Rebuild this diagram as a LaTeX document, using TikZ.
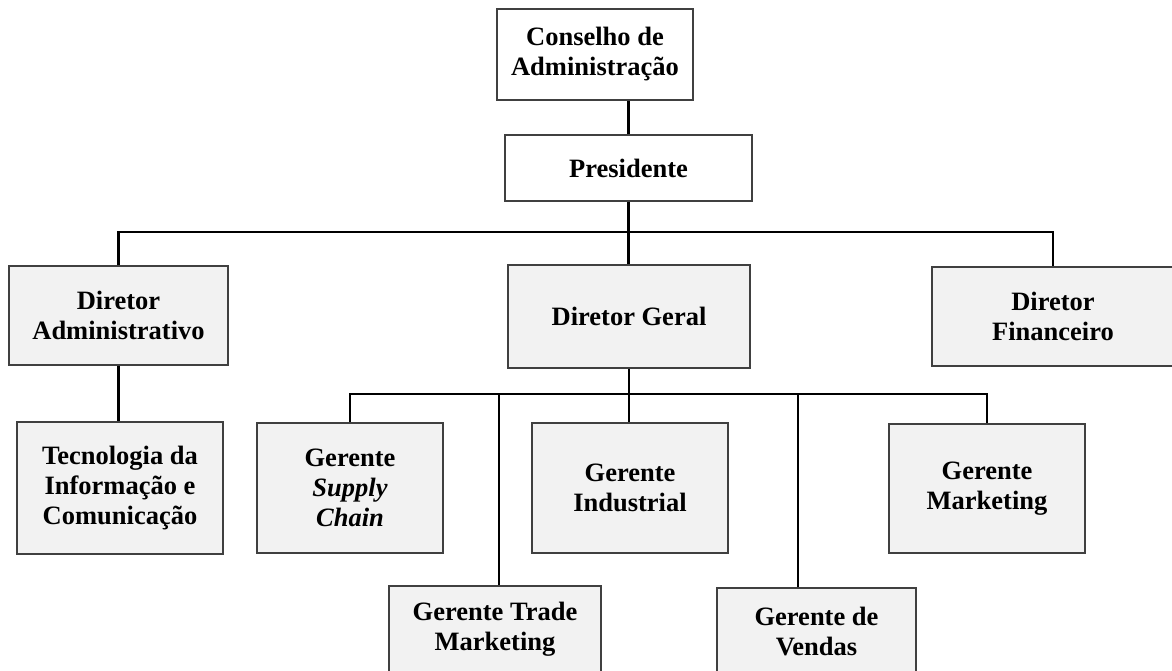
\documentclass[tikz,border=0pt]{standalone}
\usepackage{fontspec}
\setmainfont{Liberation Serif}

\begin{document}
\begin{tikzpicture}[x=1pt,y=-1pt,
    box/.style={draw=black!75, line width=1.3pt, fill=black!5, align=center,
      inner sep=0pt, font=\bfseries\fontsize{26.5}{30}\selectfont},
    topbox/.style={box, fill=white},
    link/.style={line width=2.8pt, black}]
  \useasboundingbox (0,0) rectangle (1172,671);
  \clip (0,0) rectangle (1172,671);

  % top
  \node[topbox, minimum width=196, minimum height=91] (cons) at (595,54.5) {Conselho de\\Administração};
  \node[topbox, minimum width=247, minimum height=66] (pres) at (628.5,168) {Presidente};

  % diretores
  \node[box, minimum width=219, minimum height=99] (dadm) at (118.5,315.5) {Diretor\\Administrativo};
  \node[box, minimum width=242, minimum height=103] (dger) at (629,316.5) {Diretor Geral};
  \node[box, minimum width=242, minimum height=99] (dfin) at (1053,316.5) {Diretor\\Financeiro};

  % gerentes
  \node[box, minimum width=206, minimum height=132] (tic) at (120,488) {Tecnologia da\\Informação e\\Comunicação};
  \node[box, minimum width=186, minimum height=130] (gsc) at (350,488) {Gerente\\\textit{Supply}\\\textit{Chain}};
  \node[box, minimum width=196, minimum height=130] (gind) at (630,488) {Gerente\\Industrial};
  \node[box, minimum width=196, minimum height=129] (gmkt) at (987,488.5) {Gerente\\Marketing};
  \node[box, minimum width=212, minimum height=86] (gtm) at (495,629) {Gerente Trade\\Marketing};
  \node[box, minimum width=199, minimum height=88] (gven) at (816.5,632) {Gerente de\\Vendas};

  \coordinate (b1) at (629,232);
  \coordinate (b2) at (629,394);

  \draw[link] (pres.north) -- (pres.north |- cons.south);
  \draw[link] (pres.south) -- (pres.south |- dger.north);
  \draw[link] (dadm.north) |- (b1) -| (dfin.north);
  \draw[link] (dadm.south) -- (dadm.south |- tic.north);
  \draw[link] (dger.south) -- (dger.south |- gind.north);
  \draw[link] (gsc.north) |- (b2) -| (gmkt.north);
  \draw[link] ([xshift=4]gtm.north) -- ([xshift=4]gtm.north |- b2);
  \draw[link] ([xshift=-18.5]gven.north) -- ([xshift=-18.5]gven.north |- b2);
\end{tikzpicture}
\end{document}
